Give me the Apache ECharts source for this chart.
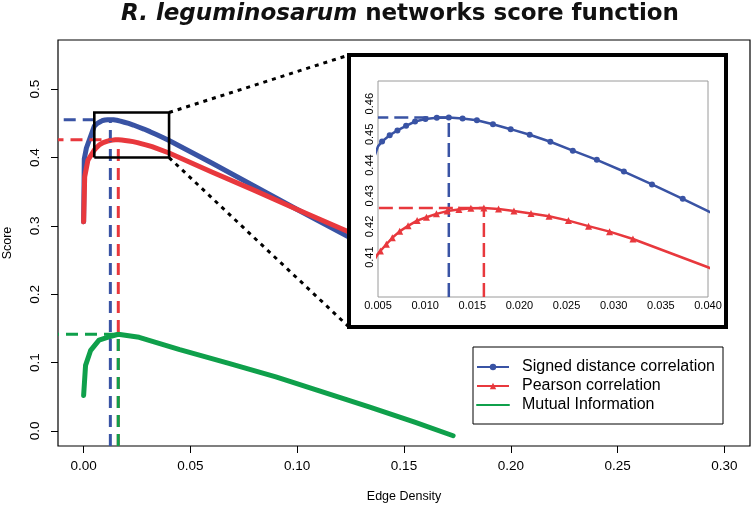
<!DOCTYPE html>
<html><head><meta charset="utf-8">
<script src="https://cdn.jsdelivr.net/npm/echarts@6/dist/echarts.min.js"></script>
<style>html,body{margin:0;padding:0;background:#fff}#c{width:751px;height:505px}</style>
</head><body><div id="c"></div>
<script>
// ---- data ----
const sdcX = [0, 0.0003, 0.0013, 0.005, 0.00543, 0.00624, 0.00706, 0.00798, 0.00893, 0.01003, 0.01124, 0.01251, 0.01397, 0.01549, 0.01719, 0.01907, 0.02109, 0.02328, 0.02566, 0.02821, 0.03108, 0.03406, 0.03732, 0.040, 0.060, 0.080, 0.100, 0.124, 0.150, 0.173];
const sdcY = [0.306, 0.398, 0.414, 0.4461, 0.4477, 0.4497, 0.4513, 0.4528, 0.4542, 0.4550, 0.4554, 0.4555, 0.4552, 0.4546, 0.4533, 0.4517, 0.4499, 0.4476, 0.4447, 0.4417, 0.4379, 0.4337, 0.4290, 0.4250, 0.392, 0.358, 0.324, 0.284, 0.240, 0.201];
const pearsonX = [0, 0.0005, 0.002, 0.005, 0.00525, 0.00589, 0.00652, 0.00730, 0.00819, 0.00915, 0.01014, 0.01120, 0.01234, 0.01358, 0.01485, 0.01623, 0.01779, 0.01942, 0.02123, 0.02314, 0.02520, 0.02733, 0.02956, 0.03204, 0.040, 0.060, 0.080, 0.100, 0.124, 0.150, 0.173];
const pearsonY = [0.306, 0.372, 0.396, 0.4111, 0.4120, 0.4142, 0.4163, 0.4184, 0.4202, 0.4219, 0.4230, 0.4241, 0.4250, 0.4255, 0.4259, 0.4260, 0.4257, 0.4250, 0.4242, 0.4233, 0.4219, 0.4201, 0.4183, 0.4159, 0.4067, 0.379, 0.352, 0.324, 0.2914, 0.256, 0.225];
const miX = [0, 0.0009, 0.0033, 0.0072, 0.0119, 0.0162, 0.026, 0.045, 0.068, 0.090, 0.110, 0.134, 0.155, 0.173];
const miY = [0.052, 0.096, 0.118, 0.133, 0.1377, 0.1415, 0.1370, 0.119, 0.099, 0.079, 0.059, 0.035, 0.013, -0.007];

const xTicks = [0, 0.05, 0.10, 0.15, 0.20, 0.25, 0.30];
const yTicks = [0, 0.1, 0.2, 0.3, 0.4, 0.5];
const insetXTicks = [0.005, 0.010, 0.015, 0.020, 0.025, 0.030, 0.035, 0.040];
const insetYTicks = [0.41, 0.42, 0.43, 0.44, 0.45, 0.46];
const zoomBoxX = [0.005, 0.040];
const zoomBoxY = [0.400, 0.466];

const names = ['Signed distance correlation', 'Pearson correlation', 'Mutual Information'];
const titleItalic = 'R. leguminosarum';
const titleRest = ' networks score function';

// ---- styling / layout ----
const BLUE = '#3953A4', RED = '#E8383D', GREEN = '#0FA04B';
const FONT = '"Liberation Sans", Arial, Helvetica, sans-serif';
const X0 = -0.012, X1 = 0.312, Y0 = -0.022, Y1 = 0.572;
const IX0 = 0.005, IX1 = 0.040, IY0 = 0.397, IY1 = 0.4674;
const INSET = {x: 349, y: 55, w: 377, h: 272};

function pairs(xs, ys) { return xs.map((x, i) => [x, ys[i]]); }
function peak(xs, ys) { let k = 0; ys.forEach((v, i) => { if (v > ys[k]) k = i; }); return [xs[k], ys[k]]; }
function marked(xs, ys) {
  return xs.map((x, i) => ({value: [x, ys[i]], symbol: (x > IX0 && x < IX1) ? undefined : 'none'}));
}

const pS = peak(sdcX, sdcY), pP = peak(pearsonX, pearsonY), pM = peak(miX, miY);

function mainLine(name, xs, ys, color) {
  return {type: 'line', name, xAxisIndex: 0, yAxisIndex: 0, data: pairs(xs, ys), symbol: 'none',
    lineStyle: {color, width: 5, cap: 'round', join: 'round'}, itemStyle: {color}, z: 2, silent: true, clip: true};
}
// dashed peak guides drawn from the bottom edge up, so overlapping dashes share phase
function mainDash(pk, color) {
  return {type: 'line', xAxisIndex: 0, yAxisIndex: 0, symbol: 'none', silent: true, z: 3,
    data: [[pk[0], Y0], [pk[0], pk[1]], [X0, pk[1]]],
    lineStyle: {color, width: 3, type: [12, 7]}};
}
function insetDash(pk, color) {
  return {type: 'line', xAxisIndex: 1, yAxisIndex: 1, symbol: 'none', silent: true, z: 9,
    data: [[pk[0], IY0], [pk[0], pk[1]], [IX0, pk[1]]],
    lineStyle: {color, width: 2.5, type: [14, 6]}};
}

const chart = echarts.init(document.getElementById('c'), null, {renderer: 'canvas'});
const option = {
  animation: false,
  backgroundColor: '#fff',
  grid: [
    {left: 58, top: 40, width: 692, height: 406, show: true, borderColor: '#000', borderWidth: 1.2, backgroundColor: 'transparent', z: 1},
    {left: 378, top: 81, width: 330, height: 216, show: true, borderColor: '#9a9a9a', borderWidth: 1, backgroundColor: '#fff', z: 7}
  ],
  xAxis: [
    {type: 'value', gridIndex: 0, min: X0, max: X1, splitLine: {show: false}, axisLine: {show: false, onZero: false},
      axisTick: {show: true, length: 7, customValues: xTicks, lineStyle: {color: '#000', width: 1}},
      axisLabel: {customValues: xTicks, margin: 13, color: '#000', fontSize: 13.5, fontFamily: FONT,
        formatter: v => v.toFixed(2)}},
    {type: 'value', gridIndex: 1, min: IX0, max: IX1, z: 8, splitLine: {show: false}, axisLine: {show: false, onZero: false},
      axisTick: {show: false},
      axisLabel: {customValues: insetXTicks, margin: 3, color: '#000', fontSize: 11, fontFamily: FONT,
        formatter: v => v.toFixed(3)}}
  ],
  yAxis: [
    {type: 'value', gridIndex: 0, min: Y0, max: Y1, splitLine: {show: false}, axisLine: {show: false, onZero: false},
      axisTick: {show: true, length: 7, customValues: yTicks, lineStyle: {color: '#000', width: 1}},
      axisLabel: {customValues: yTicks, rotate: 90, margin: 16, color: '#000', fontSize: 13.5, fontFamily: FONT,
        formatter: v => v.toFixed(1)}},
    {type: 'value', gridIndex: 1, min: IY0, max: IY1, z: 8, splitLine: {show: false}, axisLine: {show: false, onZero: false},
      axisTick: {show: false},
      axisLabel: {customValues: insetYTicks, rotate: 90, margin: 3, color: '#000', fontSize: 11, fontFamily: FONT,
        formatter: v => v.toFixed(2)}}
  ],
  legend: {
    orient: 'vertical', left: 473, top: 347, z: 20,
    data: [names[0], names[1], {name: names[2], itemStyle: {opacity: 0, color: 'rgba(0,0,0,0)', borderWidth: 0}}],
    backgroundColor: '#fff', borderColor: '#000', borderWidth: 1,
    padding: [11, 8, 10, 3], itemGap: 1, itemWidth: 32, itemHeight: 8,
    textStyle: {fontSize: 16, lineHeight: 18, fontFamily: FONT, color: '#000', padding: [0, 0, 0, 8]},
    selectedMode: false
  },
  series: [
    mainLine('sdc-main', sdcX, sdcY, BLUE),
    mainLine('pearson-main', pearsonX, pearsonY, RED),
    mainLine(names[2], miX, miY, GREEN),
    mainDash(pS, BLUE), mainDash(pP, RED), mainDash(pM, GREEN),
    {type: 'line', xAxisIndex: 0, yAxisIndex: 0, symbol: 'none', silent: true, z: 4,
      data: [[zoomBoxX[0], zoomBoxY[0]], [zoomBoxX[1], zoomBoxY[0]], [zoomBoxX[1], zoomBoxY[1]], [zoomBoxX[0], zoomBoxY[1]], [zoomBoxX[0], zoomBoxY[0]]],
      lineStyle: {color: '#000', width: 2.6, join: 'miter'}},
    insetDash(pS, BLUE), insetDash(pP, RED),
    {type: 'line', name: names[0], xAxisIndex: 1, yAxisIndex: 1, data: marked(sdcX, sdcY),
      symbol: 'circle', symbolSize: 6, showSymbol: true, clip: true, z: 10, silent: true,
      itemStyle: {color: BLUE}, lineStyle: {color: BLUE, width: 2.5}},
    {type: 'line', name: names[1], xAxisIndex: 1, yAxisIndex: 1, data: marked(pearsonX, pearsonY),
      symbol: 'triangle', symbolSize: 7, showSymbol: true, clip: true, z: 10, silent: true,
      itemStyle: {color: RED}, lineStyle: {color: RED, width: 2.5}}
  ]
};
chart.setOption(option);

// connectors & decorations (positions computed from the axes)
const cTop = chart.convertToPixel({gridIndex: 0}, [zoomBoxX[1], zoomBoxY[1]]);
const cBot = chart.convertToPixel({gridIndex: 0}, [zoomBoxX[1], zoomBoxY[0]]);
chart.setOption({
  graphic: [
    {type: 'line', z: 5, silent: true, shape: {x1: cTop[0], y1: cTop[1], x2: INSET.x, y2: INSET.y},
      style: {stroke: '#000', lineWidth: 3, lineDash: [4, 5]}},
    {type: 'line', z: 5, silent: true, shape: {x1: cBot[0], y1: cBot[1], x2: INSET.x, y2: INSET.y + INSET.h},
      style: {stroke: '#000', lineWidth: 3, lineDash: [4, 5]}},
    {type: 'rect', z: 6, silent: true, shape: {x: INSET.x, y: INSET.y, width: INSET.w, height: INSET.h},
      style: {fill: '#fff', stroke: '#000', lineWidth: 4}},
    {type: 'text', z: 20, silent: true, x: 400, y: 14,
      style: {text: '{a|' + titleItalic + '}{b|' + titleRest + '}', align: 'center', verticalAlign: 'middle',
        rich: {a: {fontFamily: '"DejaVu Sans", sans-serif', fontWeight: 'bold', fontStyle: 'italic', fontSize: 23, fill: '#111'},
               b: {fontFamily: '"DejaVu Sans", sans-serif', fontWeight: 'bold', fontSize: 23, fill: '#111'}}}},
    {type: 'text', z: 20, silent: true, x: 404, y: 497,
      style: {text: 'Edge Density', align: 'center', verticalAlign: 'middle', fontFamily: FONT, fontSize: 12.5, fill: '#000'}},
    {type: 'text', z: 20, silent: true, x: 8, y: 243, rotation: Math.PI / 2,
      style: {text: 'Score', align: 'center', verticalAlign: 'middle', fontFamily: FONT, fontSize: 12.5, fill: '#000'}}
  ]
});
</script></body></html>
